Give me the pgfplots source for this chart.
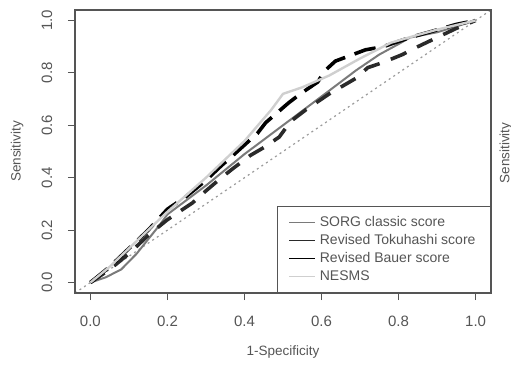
\documentclass[border=0pt]{standalone}
\usepackage{pgfplots}
\pgfplotsset{compat=1.18}
\usepackage{fontspec}
\setmainfont{Liberation Sans}
\definecolor{axisgray}{HTML}{555555}
\definecolor{sorg}{HTML}{7A7A7A}
\definecolor{toku}{HTML}{2A2A2A}
\definecolor{bauer}{HTML}{000000}
\definecolor{nesms}{HTML}{CFCFCF}
\definecolor{diag}{HTML}{9A9A9A}
\begin{document}
\begin{tikzpicture}
\useasboundingbox (-75pt,-72pt) rectangle (436pt,293pt);
\begin{axis}[
  at={(0,0)}, anchor=south west,
  scale only axis, width=416pt, height=283pt,
  xmin=-0.04, xmax=1.04, ymin=-0.04, ymax=1.04,
  xtick={0,0.2,...,1.0}, ytick={0,0.2,...,1.0},
  xticklabels={0.0,0.2,0.4,0.6,0.8,1.0},
  yticklabels={0.0,0.2,0.4,0.6,0.8,1.0},
  tick align=outside, major tick length=7pt,
  tick style={axisgray, line width=1pt},
  axis line style={axisgray, line width=1.2pt},
  xtick pos=bottom, ytick pos=left,
  ticklabel style={font=\fontsize{15}{17}\selectfont, text=axisgray},
  xticklabel style={anchor=center, yshift=-21pt},
  yticklabel style={rotate=90, anchor=center, yshift=21pt},
  xlabel={1-Specificity}, ylabel={Sensitivity},
  label style={font=\fontsize{13.5}{15}\selectfont, text=axisgray},
  xlabel style={at={(axis description cs:0.5,-0.2085)}, anchor=center},
  ylabel style={at={(axis description cs:-0.139,0.5)}, anchor=center},
  legend cell align=left,
  legend style={font=\fontsize{14}{17}\selectfont, text=axisgray, draw=axisgray, line width=1pt,
    inner xsep=11pt, inner ysep=7pt, at={(1,0)}, anchor=south east,
    nodes={text height=10pt, text depth=3pt, inner ysep=2.5pt, inner xsep=4pt}},
  legend image code/.code={\draw[#1, solid, line width=1.6pt] (0pt,0pt) -- (26pt,0pt);},
  clip=true,
]
\addplot[diag, line width=1.2pt, dash pattern=on 2pt off 3.5pt, forget plot] coordinates {(-0.04,-0.04) (1.04,1.04)};
\addplot[sorg, line width=2pt] coordinates {
(0,0) (0.04,0.02) (0.08,0.05) (0.12,0.11) (0.15,0.165) (0.18,0.22) (0.2,0.26)
(0.3,0.37) (0.4,0.49) (0.5,0.6) (0.6,0.71) (0.69,0.81) (0.75,0.87) (0.8,0.91) (0.83,0.935) (0.9,0.955) (1,1)};
\addlegendentry{SORG classic score}
\addplot[toku, line width=3.6pt, dash pattern=on 17pt off 12pt] coordinates {
(0,0) (0.05,0.05) (0.1,0.11) (0.15,0.18) (0.2,0.24) (0.265,0.304) (0.3,0.35) (0.34,0.40) (0.37,0.435)
(0.415,0.485) (0.45,0.515) (0.49,0.555) (0.52,0.615) (0.56,0.66) (0.62,0.72) (0.69,0.78)
(0.72,0.82) (0.76,0.84) (0.81,0.87) (0.85,0.9) (0.9,0.935) (0.95,0.97) (1,1)};
\addlegendentry{Revised Tokuhashi score}
\addplot[bauer, line width=3.6pt, dash pattern=on 22pt off 10pt] coordinates {
(0,0) (0.05,0.06) (0.1,0.13) (0.15,0.2) (0.2,0.28) (0.25,0.33) (0.3,0.39) (0.34,0.446)
(0.364,0.477) (0.434,0.57) (0.455,0.61) (0.514,0.685) (0.545,0.72) (0.59,0.765) (0.61,0.81)
(0.636,0.845) (0.714,0.888) (0.76,0.9) (0.83,0.935) (0.95,0.985) (1,1)};
\addlegendentry{Revised Bauer score}
\addplot[nesms, line width=2.4pt] coordinates {
(0,0) (0.05,0.06) (0.1,0.13) (0.2,0.27) (0.3,0.4) (0.4,0.54) (0.47,0.66) (0.5,0.72)
(0.55,0.745) (0.62,0.79) (0.7,0.855) (0.78,0.915) (0.85,0.945) (0.9,0.965) (1,1)};
\addlegendentry{NESMS}
\end{axis}
\draw[axisgray, line width=1.2pt] (0,0) rectangle (416pt,283pt);
\node[rotate=90, font=\fontsize{13.5}{15}\selectfont, text=axisgray] at (431pt,140pt) {Sensitivity};
\end{tikzpicture}
\end{document}
